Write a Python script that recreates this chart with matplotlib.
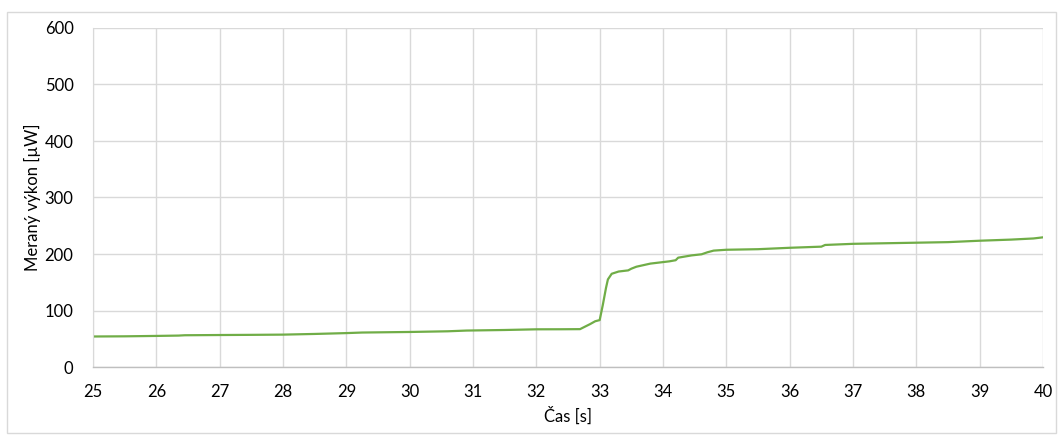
import matplotlib
matplotlib.use("Agg")
import matplotlib.pyplot as plt
from matplotlib.patches import Rectangle

time_s = [25.0, 25.5, 26.0, 26.35, 26.45, 27.0, 27.5, 28.0, 28.5, 29.0, 29.25, 30.0,
          30.6, 30.9, 31.5, 32.0, 32.4, 32.69, 32.85, 32.93, 33.0, 33.05, 33.1, 33.13,
          33.19, 33.3, 33.45, 33.5, 33.58, 33.8, 34.1, 34.2, 34.24, 34.45, 34.61, 34.7,
          34.8, 35.0, 35.5, 36.0, 36.5, 36.56, 37.0, 37.5, 38.0, 38.5, 39.0, 39.5,
          39.85, 40.0]
power_uw = [54.0, 54.3, 55.0, 55.6, 56.2, 56.6, 56.9, 57.3, 58.5, 60.0, 61.0, 62.0,
            63.2, 64.5, 65.5, 66.7, 66.8, 67.0, 76.0, 81.0, 83.0, 110.0, 140.0, 155.0,
            165.0, 169.0, 171.0, 174.0, 177.5, 183.0, 187.0, 189.0, 193.5, 197.5, 199.5,
            203.0, 206.0, 207.5, 208.5, 211.0, 213.0, 216.0, 218.0, 219.0, 220.0, 221.0,
            223.5, 225.5, 227.5, 229.5]

x_ticks = list(range(25, 41))
y_ticks = [0, 100, 200, 300, 400, 500, 600]

plt.rcParams['font.family'] = ['Lato', 'DejaVu Sans']

fig = plt.figure(figsize=(10.59, 4.36), dpi=100)
ax = fig.add_axes([93/1059, 1-367/436, 950/1059, 339/436])

ax.plot(time_s, power_uw, color='#70ad47', linewidth=1.6, solid_joinstyle='round')

ax.set_xlim(25, 40)
ax.set_ylim(0, 600)
ax.set_xticks(x_ticks)
ax.set_yticks(y_ticks)
ax.grid(True, color='#d9d9d9', linewidth=1.0)
ax.set_axisbelow(True)
for s in ['top', 'right']:
    ax.spines[s].set_visible(False)
ax.spines['left'].set_color('#d9d9d9')
ax.spines['bottom'].set_color('#bfbfbf')
ax.spines['bottom'].set_linewidth(1.0)
ax.tick_params(length=0, labelsize=12, colors='#000000', pad=12)
ax.tick_params(axis='y', pad=14)

ax.set_xlabel('Čas [s]', fontsize=12, labelpad=5)
ax.set_ylabel('Meraný výkon [µW]', fontsize=12, labelpad=3)

fig.patches.append(Rectangle((7/1059, 1-433/436), 1049/1059, 421/436,
                             transform=fig.transFigure, fill=False,
                             edgecolor='#d9d9d9', linewidth=1.0))

fig.savefig('out.png', dpi=100)
